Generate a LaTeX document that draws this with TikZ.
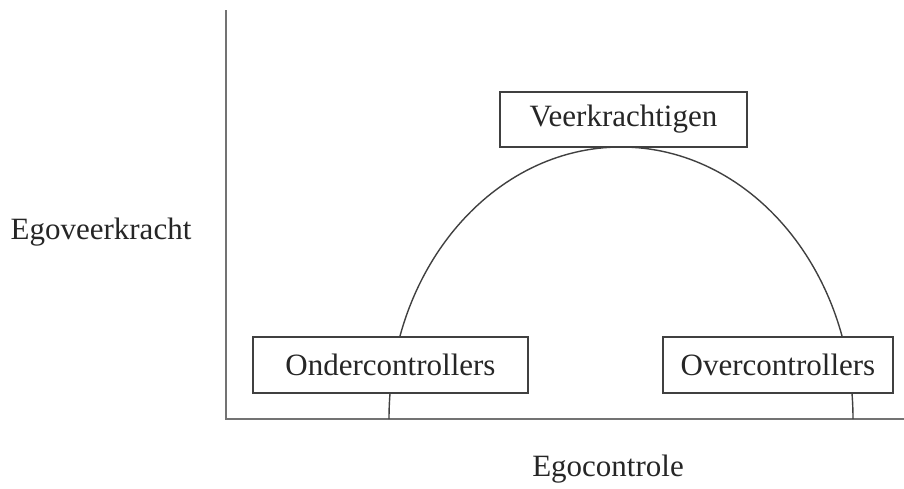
\documentclass[tikz,border=0pt]{standalone}
\usepackage{fontspec}
\setmainfont{Liberation Serif}
\begin{document}
\begin{tikzpicture}[x=1pt,y=-1pt,
  lbl/.style={font=\fontsize{31}{36}\selectfont, text=black!85},
  catbox/.style={draw=black!75, line width=1.4pt, fill=white, inner sep=0pt,
     font=\fontsize{31}{36}\selectfont, text=black!85},
  axisline/.style={draw=black!55, line width=2pt},
  curve/.style={draw=black!75, line width=1.4pt}]
\useasboundingbox (0,0) rectangle (904,488);
\coordinate (ytop) at (226,10);
\coordinate (orig) at (226,419);
\coordinate (xend) at (904,419);
\draw[axisline] (ytop) -- (orig) -- (xend);
\draw[curve] (389,419) arc[start angle=180, end angle=360, x radius=232, y radius=272];
\node[catbox, minimum width=247, minimum height=55] (veer) at (623.5,119.5) {Veerkrachtigen};
\node[catbox, minimum width=275, minimum height=56] (onder) at (390.5,365) {Ondercontrollers};
\node[catbox, minimum width=230, minimum height=56] (over) at (778,365) {Overcontrollers};
\node[lbl] (yl) at (101,232) {Egoveerkracht};
\node[lbl] (xl) at (608,469) {Egocontrole};
\end{tikzpicture}
\end{document}
